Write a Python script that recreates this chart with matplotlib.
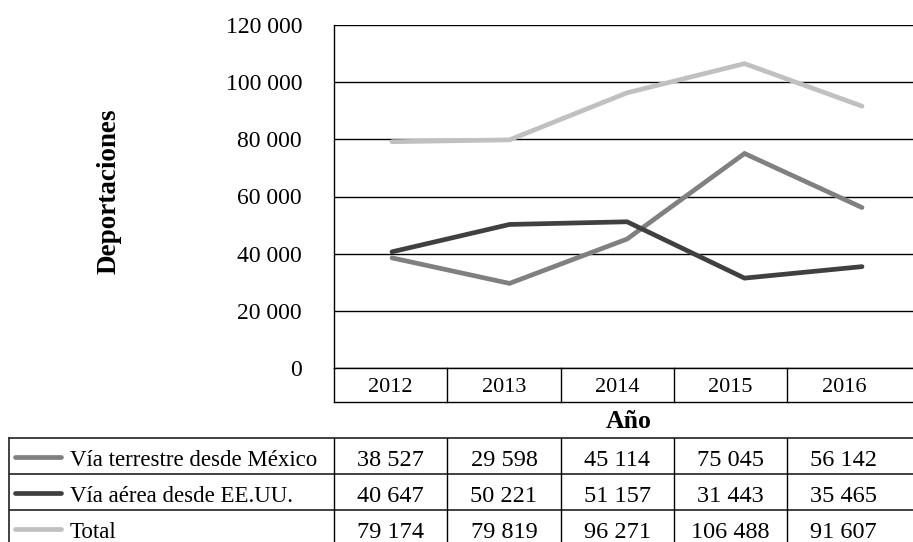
import matplotlib
matplotlib.use("Agg")
import matplotlib.pyplot as plt

plt.rcParams['font.family'] = ['Liberation Serif', 'DejaVu Serif']

# data
years = ['2012', '2013', '2014', '2015', '2016']
terrestre = [38527, 29598, 45114, 75045, 56142]
aerea = [40647, 50221, 51157, 31443, 35465]
total = [79174, 79819, 96271, 106488, 91607]

series_names = ['Vía terrestre desde México', 'Vía aérea desde EE.UU.', 'Total']
series_vals = [terrestre, aerea, total]
series_cols = ['#808080', '#404040', '#c0c0c0']

yticks = [0, 20000, 40000, 60000, 80000, 100000, 120000]

def fmt(v):
    return f"{v:,}".replace(",", " ")

W, H = 913, 542
fig = plt.figure(figsize=(W / 100, H / 100), dpi=100)

# chart area (pixel positions of the reference)
left, right, top, bottom = 334, 913, 25, 368
ax = fig.add_axes([left / W, 1 - bottom / H, (right - left) / W, (bottom - top) / H])
for i in range(len(series_vals)):
    ax.plot(range(len(years)), series_vals[i], color=series_cols[i], lw=3.4,
            solid_joinstyle='miter', solid_capstyle='round', zorder=3)
ax.set_ylim(0, 120000)
ax.set_xlim(-0.494, 4.434)
ax.set_yticks(yticks)
ax.set_yticklabels([fmt(v) for v in yticks], fontsize=17)
ax.tick_params(axis='y', length=0, pad=23)
ax.set_xticks([])
ax.yaxis.grid(True, color='black', lw=1)
ax.set_axisbelow(True)
for s in ['top', 'right', 'bottom']:
    ax.spines[s].set_visible(False)
ax.spines['left'].set_linewidth(1)
ax.spines['left'].set_color('black')

fig.text(109 / W, 1 - 191 / H, 'Deportaciones', rotation=90, fontsize=19.5,
         fontweight='bold', ha='center', va='center')

# data table drawn in pixel coords
tab = fig.add_axes([0, 0, 1, 1])
tab.set_xlim(0, W)
tab.set_ylim(H, 0)
tab.axis('off')

cw = 113.3
edges = [left + cw * i for i in range(len(years))]
centers = [e + cw / 2 for e in edges]

# year row
tab.plot([left, W], [368, 368], color='black', lw=1)
tab.plot([left, W], [402, 402], color='black', lw=1)
for e in edges:
    tab.plot([e, e], [368, 402], color='black', lw=1)
for i in range(len(years)):
    tab.text(centers[i], 385, years[i], fontsize=16, ha='center', va='center_baseline')

tab.text(629, 419, 'Año', fontsize=18.5, fontweight='bold', ha='center', va='center_baseline')

# lower table
rows = [438, 474, 510, 546]
for r in rows[:-1]:
    tab.plot([9, W], [r, r], color='#333333', lw=1.3)
tab.plot([9, 9], [438, H], color='#333333', lw=1.3)
for e in edges:
    tab.plot([e, e], [438, H], color='black', lw=1)
for j in range(len(series_names)):
    yc = (rows[j] + rows[j + 1]) / 2
    tab.plot([15, 61], [yc + 1, yc + 1], color=series_cols[j], lw=3.4, solid_capstyle='round')
    tab.text(70, yc + 2, series_names[j], fontsize=16.5, ha='left', va='center_baseline')
    for i in range(len(years)):
        tab.text(centers[i], yc + 2, fmt(series_vals[j][i]), fontsize=17.5,
                 ha='center', va='center_baseline')

fig.savefig('out.png', dpi=100)
